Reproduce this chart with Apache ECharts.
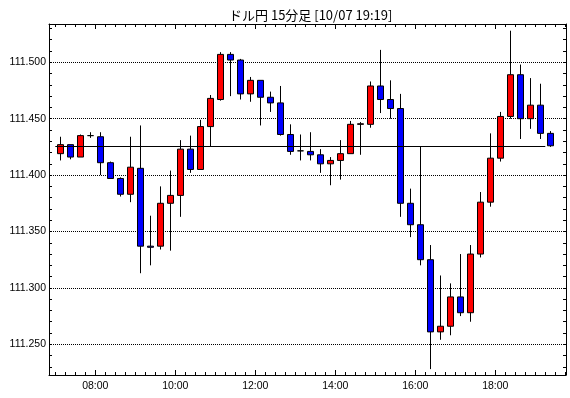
<!DOCTYPE html>
<html>
<head>
<meta charset="utf-8">
<script src="https://cdn.jsdelivr.net/npm/echarts@6/dist/echarts.min.js"></script>
<style>
html,body{margin:0;padding:0;background:#fff;}
#chart{width:570px;height:398px;}
</style>
</head>
<body>
<div id="chart"></div>
<script>
var titleText = 'ドル円 15分足 [10/07 19:19]';
var times = ['07:00','07:15','07:30','07:45','08:00','08:15','08:30','08:45','09:00','09:15',
  '09:30','09:45','10:00','10:15','10:30','10:45','11:00','11:15','11:30','11:45',
  '12:00','12:15','12:30','12:45','13:00','13:15','13:30','13:45','14:00','14:15',
  '14:30','14:45','15:00','15:15','15:30','15:45','16:00','16:15','16:30','16:45',
  '17:00','17:15','17:30','17:45','18:00','18:15','18:30','18:45','19:00','19:15'];
var opens = [111.419,111.427,111.416,111.435,111.434,111.411,111.397,111.383,111.406,111.337,
  111.337,111.375,111.382,111.423,111.405,111.443,111.467,111.507,111.502,111.472,
  111.484,111.469,111.464,111.436,111.4215,111.421,111.418,111.410,111.413,111.419,
  111.445,111.445,111.479,111.467,111.459,111.375,111.356,111.325,111.261,111.266,
  111.292,111.278,111.330,111.376,111.415,111.452,111.489,111.450,111.462,111.437];
var closes = [111.427,111.416,111.435,111.435,111.411,111.397,111.383,111.407,111.337,111.336,
  111.375,111.382,111.423,111.405,111.443,111.468,111.507,111.502,111.472,111.484,
  111.469,111.464,111.436,111.421,111.4215,111.418,111.410,111.413,111.419,111.445,
  111.4455,111.479,111.467,111.459,111.375,111.356,111.325,111.261,111.266,111.292,
  111.278,111.330,111.376,111.415,111.452,111.489,111.450,111.462,111.437,111.426];
var lows = [111.413,111.414,111.416,111.433,111.400,111.397,111.381,111.376,111.313,111.320,
  111.334,111.333,111.363,111.402,111.405,111.425,111.466,111.470,111.467,111.465,
  111.444,111.456,111.435,111.418,111.413,111.413,111.402,111.391,111.396,111.419,
  111.418,111.442,111.455,111.450,111.363,111.345,111.320,111.228,111.254,111.258,
  111.275,111.270,111.327,111.372,111.412,111.450,111.432,111.441,111.432,111.425];
var highs = [111.434,111.427,111.436,111.438,111.438,111.412,111.398,111.434,111.444,111.364,
  111.390,111.404,111.431,111.435,111.449,111.471,111.509,111.509,111.503,111.487,
  111.484,111.474,111.479,111.445,111.436,111.438,111.423,111.416,111.431,111.448,
  111.447,111.483,111.511,111.484,111.472,111.388,111.425,111.338,111.311,111.304,
  111.330,111.338,111.385,111.437,111.456,111.528,111.498,111.486,111.481,111.439];

function toHours(t){ var p = t.split(':'); return +p[0] + (+p[1]) / 60; }
var candleData = times.map(function(t, i){
  return [toHours(t) + 0.125, opens[i], closes[i], lows[i], highs[i]];
});
var lastPrice = closes[closes.length - 1];
var lineStart = toHours(times[0]);
var lineEnd = toHours(times[times.length - 1]);

var X_MIN = 6.8425, X_MAX = 19.7675;
var Y_MAX = 111.53395, Y_MIN = 111.22278;
var FONT = 'Liberation Sans';

function xAxisDef(pos, step, tickLen, labels, line){
  return {
    type: 'value', position: pos, min: X_MIN, max: X_MAX,
    minInterval: step, maxInterval: step,
    axisLine: {show: line, onZero: false, lineStyle: {color: '#000', width: 1}},
    axisTick: {show: true, inside: true, length: tickLen, lineStyle: {color: '#000', width: 1}},
    axisLabel: {show: labels, showMinLabel: false, showMaxLabel: false, margin: 6,
      color: '#000', fontFamily: FONT, fontSize: 10.5,
      formatter: function(v){
        var h = Math.round(v);
        if (Math.abs(v - h) > 1e-6 || h % 2 !== 0) return '';
        return (h < 10 ? '0' : '') + h + ':00';
      }},
    splitLine: {show: false}
  };
}
function yAxisDef(pos, step, tickLen, labels, split, line){
  return {
    type: 'value', position: pos, min: Y_MIN, max: Y_MAX,
    minInterval: step, maxInterval: step, scale: true,
    axisLine: {show: line, onZero: false, lineStyle: {color: '#000', width: 1}},
    axisTick: {show: tickLen > 0, inside: true, length: tickLen, lineStyle: {color: '#000', width: 1}},
    axisLabel: {show: labels, showMinLabel: false, showMaxLabel: false, margin: 3,
      color: '#000', fontFamily: FONT, fontSize: 10.5,
      formatter: function(v){
        var k = v * 20;
        if (Math.abs(k - Math.round(k)) > 1e-6) return '';
        return v.toFixed(3);
      }},
    splitLine: {show: split, lineStyle: {color: '#000', type: 'dotted', width: 1}}
  };
}

var chart = echarts.init(document.getElementById('chart'), null, {renderer: 'canvas'});
chart.setOption({
  animation: false,
  backgroundColor: '#fff',
  title: {
    text: titleText, left: 224, top: 4,
    textStyle: {color: '#000', fontSize: 13, fontWeight: 'normal', fontFamily: 'Noto Sans CJK JP'}
  },
  grid: {left: 49, right: 4, top: 24, bottom: 23, containLabel: false},
  xAxis: [
    xAxisDef('bottom', 2, 5, true, true),
    xAxisDef('bottom', 0.25, 3, false, false),
    xAxisDef('top', 2, 5, false, true),
    xAxisDef('top', 0.25, 3, false, false)
  ],
  yAxis: [
    yAxisDef('left', 0.05, 0, true, true, true),
    yAxisDef('left', 0.01, 3, false, false, false),
    yAxisDef('right', 0.05, 0, false, false, true),
    yAxisDef('right', 0.01, 3, false, false, false)
  ],
  series: [{
    type: 'candlestick',
    xAxisIndex: 0, yAxisIndex: 0,
    encode: {x: 0, y: [1, 2, 3, 4]},
    barWidth: 7,
    data: candleData,
    itemStyle: {
      color: '#ff0000', color0: '#0000ff',
      borderColor: '#000', borderColor0: '#000', borderColorDoji: '#000', borderWidth: 1
    },
    markLine: {
      silent: true, symbol: ['none', 'none'], label: {show: false},
      lineStyle: {color: '#000', width: 1, type: 'solid'},
      data: [[{coord: [lineStart, lastPrice]}, {coord: [lineEnd, lastPrice]}]]
    }
  }]
});
</script>
</body>
</html>
